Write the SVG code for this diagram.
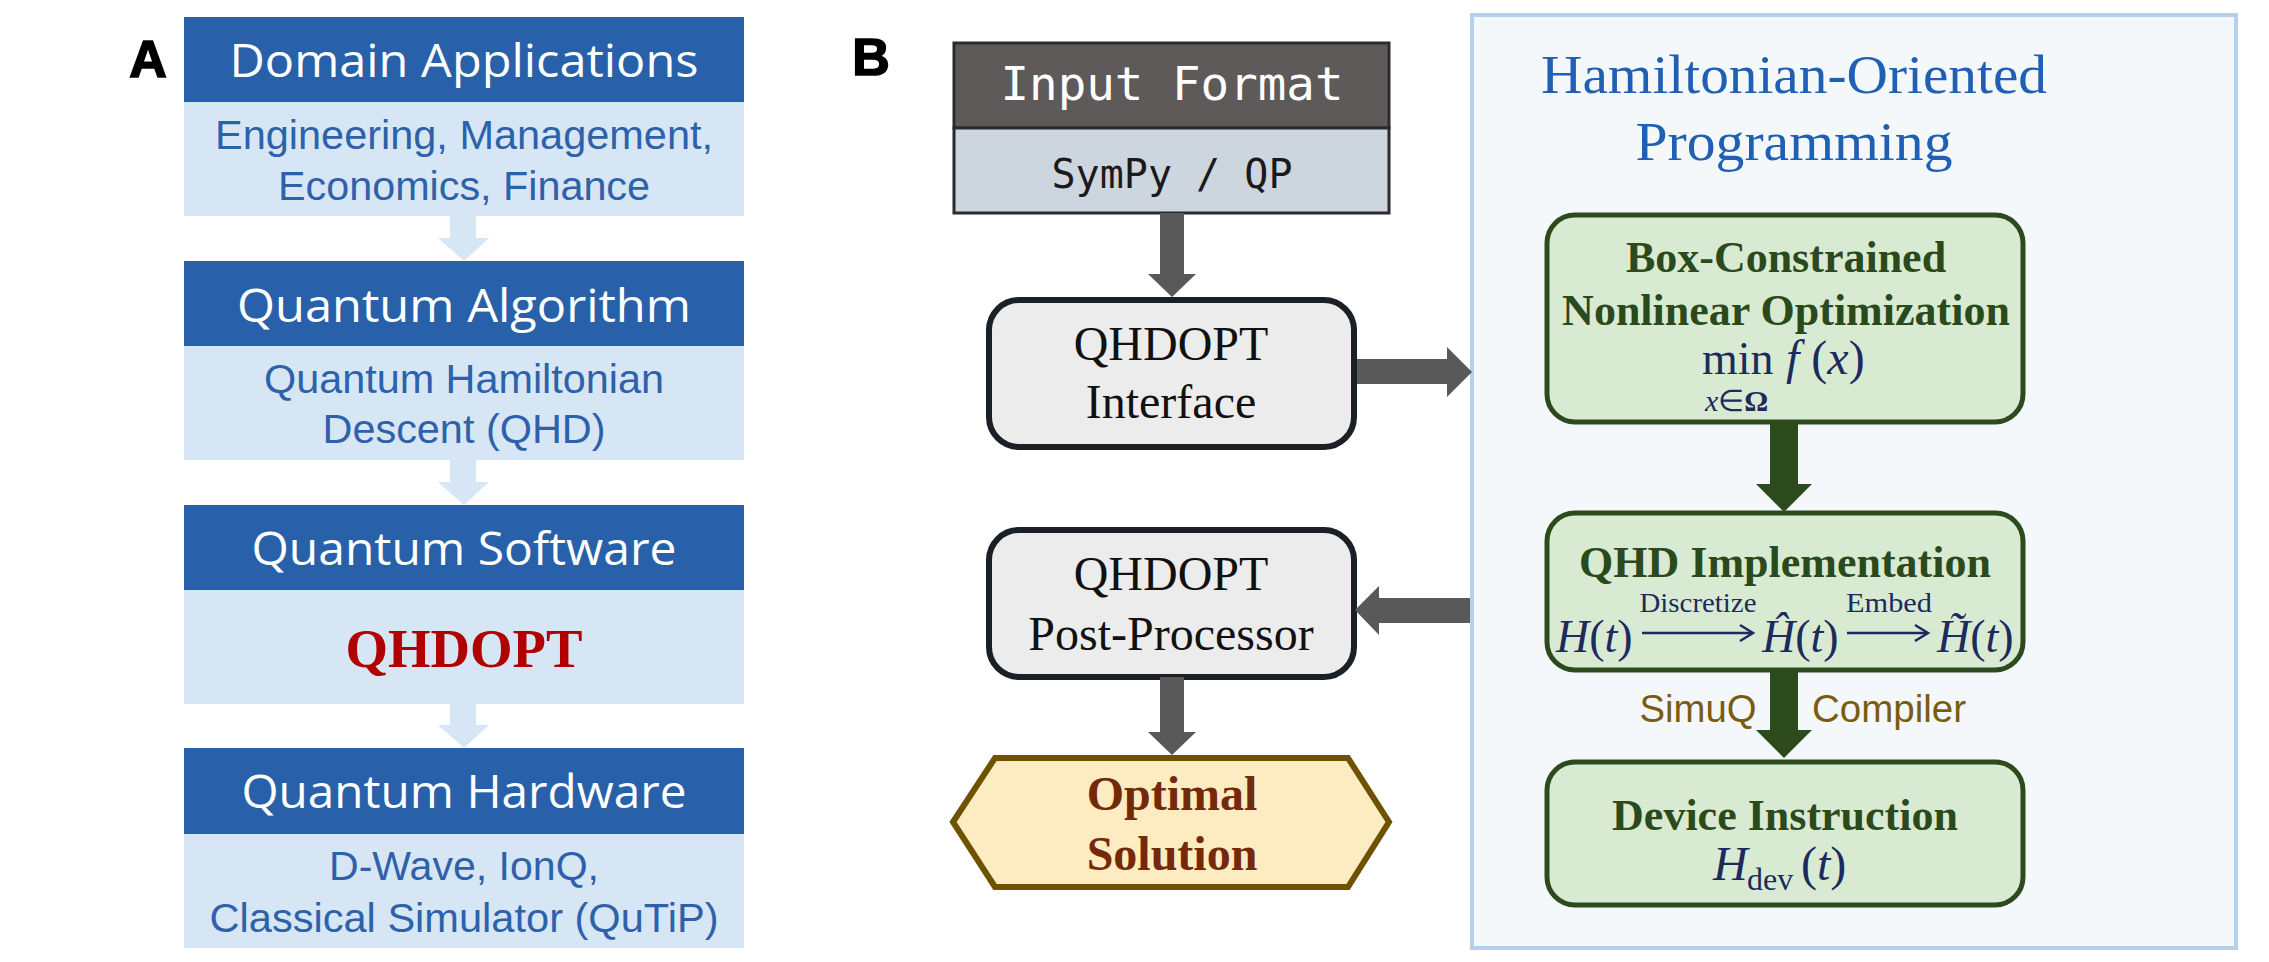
<svg xmlns="http://www.w3.org/2000/svg" width="2269" height="962" viewBox="0 0 2269 962">
<defs>
<style>
.lbl{font-family:"Liberation Sans",Arial,sans-serif;font-weight:bold;font-size:52px;fill:#000;stroke:#000;stroke-width:1.6px;text-anchor:middle}
.hdr{fill:#2861a9}
.sub{fill:#d7e6f5}
.htxt{font-family:"Open Sans","Noto Sans",sans-serif;font-size:45px;fill:#fff;text-anchor:middle}
.stxt{font-family:"Liberation Sans",Arial,sans-serif;font-size:40px;fill:#2d62ab;text-anchor:middle}
.larr{fill:#d7e6f5}
.garr{fill:#595959}
.darr{fill:#2c4a1c}
.mono{font-family:"DejaVu Sans Mono","Liberation Mono",monospace;text-anchor:middle}
.serif{font-family:"Liberation Serif","Times New Roman",serif;text-anchor:middle}
.gbox{fill:#d9ead3;stroke:#2c4a1c;stroke-width:5}
.gtitle{font-family:"Liberation Serif","Times New Roman",serif;font-weight:bold;font-size:44px;fill:#2b4a1b;text-anchor:middle}
.math{font-family:"Liberation Serif","Times New Roman",serif;fill:#1c2a5e}
.it{font-style:italic}
.pbox{fill:#ececec;stroke:#1b2026;stroke-width:6}
.ptxt{font-family:"Liberation Serif","Times New Roman",serif;font-size:48px;fill:#111;text-anchor:middle}
.cap{font-family:"Liberation Sans",Arial,sans-serif;font-size:38px;fill:#7a5c0f;text-anchor:middle}
</style>
</defs>
<rect width="2269" height="962" fill="#fff"/>

<!-- Panel labels -->
<text class="lbl" x="148" y="77">A</text>
<text class="lbl" x="871" y="75">B</text>

<!-- Panel A -->
<g id="domain-applications">
<rect class="hdr" x="184" y="17" width="560" height="85"/>
<rect class="sub" x="184" y="102" width="560" height="114"/>
<text class="htxt" x="464" y="77" textLength="469" lengthAdjust="spacingAndGlyphs">Domain Applications</text>
<text class="stxt" x="464" y="149" textLength="498" lengthAdjust="spacingAndGlyphs">Engineering, Management,</text>
<text class="stxt" x="464" y="200" textLength="372" lengthAdjust="spacingAndGlyphs">Economics, Finance</text>
</g>
<g id="quantum-algorithm">
<rect class="hdr" x="184" y="261" width="560" height="85"/>
<rect class="sub" x="184" y="346" width="560" height="114"/>
<text class="htxt" x="464" y="322" textLength="454" lengthAdjust="spacingAndGlyphs">Quantum Algorithm</text>
<text class="stxt" x="464" y="393" textLength="400" lengthAdjust="spacingAndGlyphs">Quantum Hamiltonian</text>
<text class="stxt" x="464" y="443" textLength="283" lengthAdjust="spacingAndGlyphs">Descent (QHD)</text>
</g>
<g id="quantum-software">
<rect class="hdr" x="184" y="505" width="560" height="85"/>
<rect class="sub" x="184" y="590" width="560" height="114"/>
<text class="htxt" x="464" y="565" textLength="425" lengthAdjust="spacingAndGlyphs">Quantum Software</text>
<text x="464" y="667" font-family="'Liberation Serif','Times New Roman',serif" font-weight="bold" font-size="54" fill="#b00000" text-anchor="middle" textLength="237" lengthAdjust="spacingAndGlyphs">QHDOPT</text>
</g>
<g id="quantum-hardware">
<rect class="hdr" x="184" y="748" width="560" height="86"/>
<rect class="sub" x="184" y="834" width="560" height="114"/>
<text class="htxt" x="464" y="808" textLength="445" lengthAdjust="spacingAndGlyphs">Quantum Hardware</text>
<text class="stxt" x="464" y="880" textLength="270" lengthAdjust="spacingAndGlyphs">D-Wave, IonQ,</text>
<text class="stxt" x="464" y="932" textLength="509" lengthAdjust="spacingAndGlyphs">Classical Simulator (QuTiP)</text>
</g>

<!-- Panel B right container -->
<g id="hamiltonian-oriented-programming">
<rect x="1472" y="15" width="764" height="933" fill="#f5f8fb" stroke="#b5d0ec" stroke-width="4"/>
<text class="serif" x="1794" y="93" font-size="54" fill="#1f5fb4" textLength="506" lengthAdjust="spacingAndGlyphs">Hamiltonian-Oriented</text>
<text class="serif" x="1794" y="160" font-size="54" fill="#1f5fb4" textLength="317" lengthAdjust="spacingAndGlyphs">Programming</text>
</g>

<g id="input-format">
<rect x="954" y="43" width="435" height="85" fill="#5e5a5a" stroke="#2b2b2b" stroke-width="3"/>
<rect x="954" y="128" width="435" height="85" fill="#cdd5df" stroke="#2b2b2b" stroke-width="3"/>
<text class="mono" x="1172" y="100" font-size="46" fill="#fff" textLength="343" lengthAdjust="spacingAndGlyphs">Input Format</text>
<text class="mono" x="1172" y="188" font-size="40" fill="#1a1a1a" textLength="241" lengthAdjust="spacingAndGlyphs">SymPy / QP</text>
</g>

<g id="qhdopt-interface">
<rect class="pbox" x="989" y="300" width="365" height="147" rx="30"/>
<text class="ptxt" x="1171" y="360">QHDOPT</text>
<text class="ptxt" x="1171" y="418">Interface</text>
</g>

<g id="qhdopt-post-processor">
<rect class="pbox" x="989" y="530" width="365" height="147" rx="30"/>
<text class="ptxt" x="1171" y="590">QHDOPT</text>
<text class="ptxt" x="1171" y="650">Post-Processor</text>
</g>

<g id="optimal-solution">
<polygon points="953,822 995,758 1348,758 1389,822 1348,887 995,887" fill="#fdebc1" stroke="#6e5200" stroke-width="6"/>
<text class="serif" x="1172" y="810" font-size="48" font-weight="bold" fill="#74290b">Optimal</text>
<text class="serif" x="1172" y="870" font-size="48" font-weight="bold" fill="#74290b">Solution</text>
</g>

<g id="box-constrained">
<rect class="gbox" x="1547" y="215" width="476" height="207" rx="28"/>
<text class="gtitle" x="1786" y="272">Box-Constrained</text>
<text class="gtitle" x="1786" y="325">Nonlinear Optimization</text>
<text class="math" x="1702" y="374" font-size="46">min<tspan x="1705" y="411" font-size="30"><tspan class="it">x</tspan>∈<tspan font-weight="bold">Ω</tspan></tspan><tspan x="1786" y="374" font-size="48"><tspan class="it">f</tspan> (<tspan class="it">x</tspan>)</tspan></text>
</g>

<g id="qhd-implementation">
<rect class="gbox" x="1547" y="513" width="476" height="157" rx="28"/>
<text class="gtitle" x="1785" y="577">QHD Implementation</text>
<text class="math" x="1698" y="612" font-size="28" text-anchor="middle" textLength="117" lengthAdjust="spacingAndGlyphs">Discretize</text>
<text class="math" x="1889" y="612" font-size="28" text-anchor="middle" textLength="86" lengthAdjust="spacingAndGlyphs">Embed</text>
<text class="math" x="1556" y="652" font-size="46"><tspan class="it">H</tspan>(<tspan class="it">t</tspan>)<tspan x="1762"><tspan class="it">Ĥ</tspan>(<tspan class="it">t</tspan>)</tspan><tspan x="1937"><tspan class="it">H̃</tspan>(<tspan class="it">t</tspan>)</tspan></text>
<line x1="1642" y1="633" x2="1751" y2="633" stroke="#1c2a5e" stroke-width="2.5"/>
<path d="M1740,625 L1753,633 L1740,641" fill="none" stroke="#1c2a5e" stroke-width="2.5"/>
<line x1="1847" y1="633" x2="1926" y2="633" stroke="#1c2a5e" stroke-width="2.5"/>
<path d="M1915,625 L1928,633 L1915,641" fill="none" stroke="#1c2a5e" stroke-width="2.5"/>
</g>

<g id="device-instruction">
<rect class="gbox" x="1547" y="762" width="476" height="143" rx="28"/>
<text class="gtitle" x="1785" y="830">Device Instruction</text>
<text class="math" x="1713" y="880" font-size="48"><tspan class="it">H</tspan><tspan x="1747" y="890" font-size="32">dev</tspan><tspan x="1801" y="880">(<tspan class="it">t</tspan>)</tspan></text>
</g>

<g id="connectors">
<polygon class="larr" points="450,216 476,216 476,238 489,238 464,261 438,238 450,238"/>
<polygon class="larr" points="450,460 476,460 476,482 489,482 464,505 438,482 450,482"/>
<polygon class="larr" points="450,704 476,704 476,725 489,725 464,748 438,725 450,725"/>
<polygon class="garr" points="1160,213 1184,213 1184,274 1196,274 1172,297 1148,274 1160,274"/>
<polygon class="garr" points="1160,677 1184,677 1184,732 1196,732 1172,755 1148,732 1160,732"/>
<polygon class="garr" points="1357,359 1447,359 1447,347 1472,372 1447,397 1447,384 1357,384"/>
<polygon class="garr" points="1470,598 1379,598 1379,586 1355,610 1379,635 1379,623 1470,623"/>
<polygon class="darr" points="1770,424 1798,424 1798,484 1812,484 1784,512 1756,484 1770,484"/>
<polygon class="darr" points="1770,672 1798,672 1798,730 1812,730 1784,758 1756,730 1770,730"/>
<text class="cap" x="1698" y="722" textLength="117" lengthAdjust="spacingAndGlyphs">SimuQ</text>
<text class="cap" x="1889" y="722" textLength="154" lengthAdjust="spacingAndGlyphs">Compiler</text>
</g>
</svg>
